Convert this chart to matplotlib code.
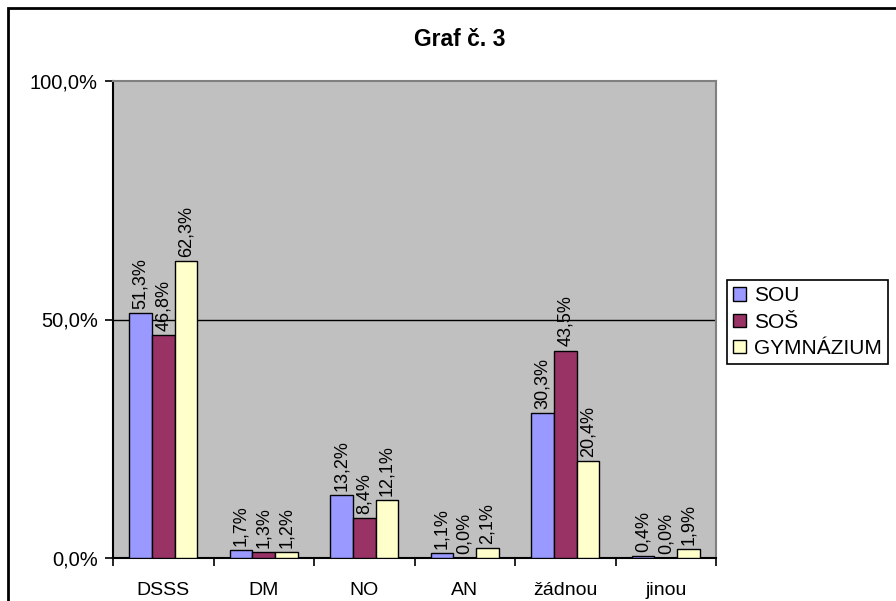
import numpy as np
import matplotlib
matplotlib.use("Agg")
from matplotlib import pyplot as plt
from matplotlib.patches import Rectangle

plt.rcParams['font.family'] = ['Liberation Sans', 'DejaVu Sans']

categories = ['DSSS', 'DM', 'NO', 'AN', 'žádnou', 'jinou']
series = ['SOU', 'SOŠ', 'GYMNÁZIUM']
sou = [51.3, 1.7, 13.2, 1.1, 30.3, 0.4]
sos = [46.8, 1.3, 8.4, 0.0, 43.5, 0.0]
gym = [62.3, 1.2, 12.1, 2.1, 20.4, 1.9]
colors = ['#9999FF', '#993366', '#FFFFCC']
yticks = [0, 50, 100]
ytick_labels = ['0,0%', '50,0%', '100,0%']

W, H = 896, 601
fig = plt.figure(figsize=(W / 100, H / 100), dpi=100)
ax = fig.add_axes([113 / W, 1 - 558 / H, (716 - 113) / W, (558 - 81) / H])
ax.set_facecolor('#C0C0C0')

x = np.arange(len(categories))
bw = 0.227
for i, (vals, name, col) in enumerate(zip([sou, sos, gym], series, colors)):
    bars = ax.bar(x + (i - 1) * bw, vals, bw, color=col, edgecolor='black',
                  linewidth=1, label=name, zorder=3)
    labs = [('%.1f%%' % v).replace('.', ',') for v in vals]
    ax.bar_label(bars, labels=labs, rotation=90, padding=3, fontsize=13, zorder=4)

ax.axhline(50, color='black', lw=1, zorder=2)
ax.set_xlim(-0.5, len(categories) - 0.5)
ax.set_ylim(0, 100)
ax.set_yticks(yticks)
ax.set_yticklabels(ytick_labels, fontsize=14.5)
ax.set_xticks(x)
ax.set_xticklabels(categories, fontsize=14)
ax.set_xticks(np.arange(len(categories) + 1) - 0.5, minor=True)
ax.tick_params(axis='x', which='major', length=0, pad=17)
ax.tick_params(axis='x', which='minor', length=6, width=1.2, direction='out')
ax.tick_params(axis='y', length=6, width=1.2, direction='out', pad=5)

for s in ['top', 'right']:
    ax.spines[s].set_color('#808080')
    ax.spines[s].set_linewidth(1.5)
for s in ['left', 'bottom']:
    ax.spines[s].set_color('black')
    ax.spines[s].set_linewidth(1.5)

fig.text(460 / W, 1 - 40 / H, 'Graf č. 3', fontsize=16.5, fontweight='bold',
         ha='center', va='center')

leg = ax.legend(loc='upper left', bbox_to_anchor=(727 / W, 1 - 280 / H),
                bbox_transform=fig.transFigure, fontsize=15, frameon=True,
                fancybox=False, edgecolor='black', framealpha=1,
                handlelength=0.6, handleheight=0.6, handletextpad=0.4,
                labelspacing=0.35, borderpad=0.3, borderaxespad=0)
leg.get_frame().set_linewidth(1.2)

fig.patches.append(Rectangle((8 / W, -0.1), 1.0, 1 - 8 / H + 0.1,
                             transform=fig.transFigure, fill=False,
                             edgecolor='black', linewidth=2))

fig.savefig('out.png', dpi=100)
